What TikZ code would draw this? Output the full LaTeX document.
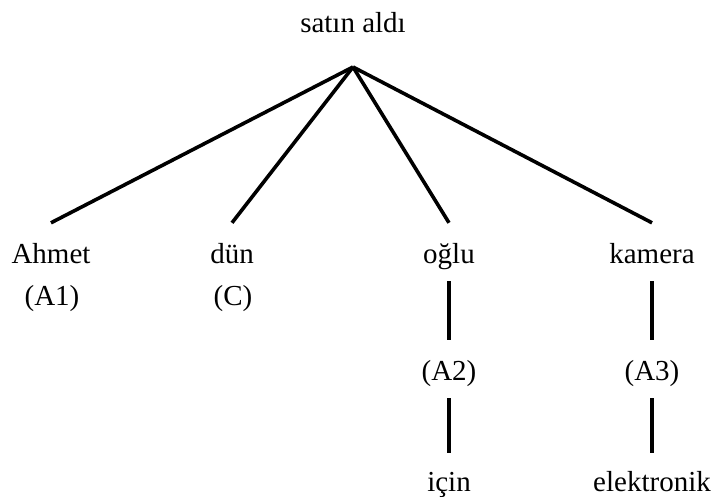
\documentclass[tikz,border=0pt]{standalone}
\usepackage{fontspec}
\setmainfont{Liberation Serif}
\begin{document}
\begin{tikzpicture}
		[x=1pt,y=-1pt,
		word/.style={font=\fontsize{29}{34}\selectfont,text height=40pt,text depth=18pt,inner sep=0pt,anchor=base},
		link/.style={line width=3.6pt}]
		\useasboundingbox (0,0) rectangle (714,497);
		% root and the point the branches fan out from
		\node[word] (root) at (353,33) {satın aldı};
		\coordinate (fork) at (353,67);
		% first level
		\node[word] (ahmet) at (51,263) {Ahmet};
		\node[word] (dun) at (232,263) {dün};
		\node[word] (oglu) at (449,263) {oğlu};
		\node[word] (kamera) at (652,263) {kamera};
		\node[word] (a1) at (52,305) {(A1)};
		\node[word] (c) at (233,305) {(C)};
		% lower levels
		\node[word] (a2) at (449,380) {(A2)};
		\node[word] (a3) at (652,380) {(A3)};
		\node[word,text height=38pt] (icin) at (449,491) {için};
		\node[word,text height=38pt] (elektronik) at (652,491) {elektronik};
		\foreach \w in {ahmet,dun,oglu,kamera}
		{
			\draw[link] (fork) -- (\w.north);
		}
		\draw[link] (oglu.south) -- (a2.north);
		\draw[link] (a2.south) -- (icin.north);
		\draw[link] (kamera.south) -- (a3.north);
		\draw[link] (a3.south) -- (elektronik.north);
	\end{tikzpicture}
\end{document}
